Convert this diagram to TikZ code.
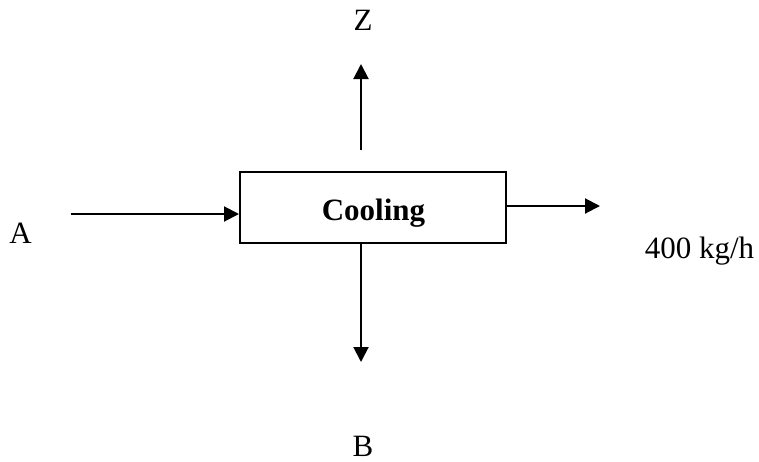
\documentclass[tikz,border=0pt]{standalone}
\usepackage{fontspec}
\setmainfont{Liberation Serif}
\usetikzlibrary{arrows.meta}
\begin{document}
\begin{tikzpicture}[x=1pt,y=1pt,
  flow/.style={line width=2pt,-{Triangle[length=15pt,width=15pt]}},
  lbl/.style={inner sep=0pt,anchor=base,font=\fontsize{31}{37}\selectfont}]
\useasboundingbox (0,0) rectangle (759,-461);
\node[draw,line width=2pt,minimum width=266pt,minimum height=71pt,inner sep=0pt] (box) at (373,-207.5) {};
\node[lbl,font=\fontsize{31}{37}\selectfont\bfseries] (cool) at (373.5,-220) {Cooling};
\coordinate (a0) at (71,-214);
\coordinate (r1) at (600,-206);
\coordinate (z0) at (361,-150);
\coordinate (z1) at (361,-64);
\coordinate (b1) at (361,-362);
\draw[flow] (a0) -- (a0 -| box.west);
\draw[flow] (r1 -| box.east) -- (r1);
\draw[flow] (z0) -- (z1);
\draw[flow] (b1 |- box.south) -- (b1);
\node[lbl] (Z) at (363,-30) {Z};
\node[lbl] (A) at (20.5,-243) {A};
\node[lbl] (B) at (363,-456) {B};
\node[lbl] (out) at (699.5,-258) {400 kg/h};
\end{tikzpicture}
\end{document}
